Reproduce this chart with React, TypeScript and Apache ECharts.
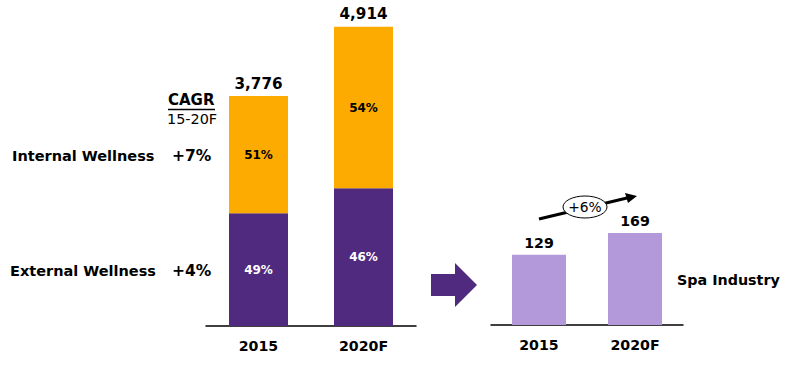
import React, { useEffect, useRef } from "react";
import * as echarts from "echarts";

const years = ["2015", "2020F"];
const totals = [3776, 4914];
const externalShare = [49, 46];
const internalShare = [51, 54];
const spaYears = ["2015", "2020F"];
const spaValues = [129, 169];
const cagrInternal = "+7%";
const cagrExternal = "+4%";
const cagrSpa = "+6%";

const FONT = "DejaVu Sans";
const ORANGE = "#FDAB00";
const PURPLE = "#4F2A7E";
const LILAC = "#B499DA";

export default function App() {
  const ref = useRef<HTMLDivElement>(null);
  useEffect(() => {
    if (!ref.current) return;
    const chart = echarts.init(ref.current, undefined, { renderer: "svg" });
    const extVals = totals.map((t, i) => Math.round((t * externalShare[i]) / 100));
    const intVals = totals.map((t, i) => t - extVals[i]);
    const txt = (x: number, y: number, text: string, opts: any = {}) => ({
      type: "text",
      x,
      y,
      style: {
        text,
        fontFamily: FONT,
        fontSize: 14,
        fontWeight: "bold",
        fill: "#000",
        textAlign: "left",
        textVerticalAlign: "middle",
        ...opts,
      },
    });
    const xLabel = { color: "#000", fontSize: 14.2, fontWeight: "bold", fontFamily: FONT, margin: 13 };
    chart.setOption({
      animation: false,
      textStyle: { fontFamily: FONT },
      grid: [
        { left: 206, width: 210, top: 21.5, height: 304.5 },
        { left: 491, width: 192, top: 216, height: 109 },
      ],
      xAxis: [
        {
          type: "category",
          gridIndex: 0,
          data: years,
          axisLine: { lineStyle: { color: "#000", width: 1.5 } },
          axisTick: { show: false },
          axisLabel: xLabel,
        },
        {
          type: "category",
          gridIndex: 1,
          data: spaYears,
          axisLine: { lineStyle: { color: "#000", width: 1.5 } },
          axisTick: { show: false },
          axisLabel: xLabel,
        },
      ],
      yAxis: [
        { type: "value", gridIndex: 0, min: 0, max: 5000, show: false, splitLine: { show: false } },
        { type: "value", gridIndex: 1, min: 0, max: 200, show: false, splitLine: { show: false } },
      ],
      series: [
        {
          name: "External Wellness",
          type: "bar",
          stack: "w",
          xAxisIndex: 0,
          yAxisIndex: 0,
          barWidth: 59,
          data: extVals,
          itemStyle: { color: PURPLE },
          label: {
            show: true,
            position: "inside",
            color: "#fff",
            fontSize: 12,
            fontWeight: "bold",
            fontFamily: FONT,
            formatter: (p: any) => externalShare[p.dataIndex] + "%",
          },
        },
        {
          name: "Internal Wellness",
          type: "bar",
          stack: "w",
          xAxisIndex: 0,
          yAxisIndex: 0,
          barWidth: 59,
          data: intVals,
          itemStyle: { color: ORANGE },
          label: {
            show: true,
            position: "inside",
            color: "#000",
            fontSize: 12,
            fontWeight: "bold",
            fontFamily: FONT,
            formatter: (p: any) => internalShare[p.dataIndex] + "%",
          },
        },
        {
          name: "Total",
          type: "bar",
          stack: "w",
          xAxisIndex: 0,
          yAxisIndex: 0,
          barWidth: 59,
          data: totals.map(() => 0),
          itemStyle: { color: "transparent" },
          label: {
            show: true,
            position: "top",
            distance: 5,
            color: "#000",
            fontSize: 15.2,
            fontWeight: "bold",
            fontFamily: FONT,
            formatter: (p: any) => totals[p.dataIndex].toLocaleString("en-US"),
          },
        },
        {
          name: "Spa Industry",
          type: "bar",
          xAxisIndex: 1,
          yAxisIndex: 1,
          barWidth: 54,
          data: spaValues,
          itemStyle: { color: LILAC },
          label: {
            show: true,
            position: "top",
            distance: 5,
            color: "#000",
            fontSize: 14.2,
            fontWeight: "bold",
            fontFamily: FONT,
            formatter: "{c}",
          },
        },
      ],
      graphic: [
        txt(168, 100, "CAGR", { fontSize: 15 }),
        { type: "line", shape: { x1: 168, y1: 109.5, x2: 215, y2: 109.5 }, style: { stroke: "#000", lineWidth: 1.5 } },
        txt(167, 119, "15-20F", { fontSize: 14.4, fontWeight: "normal" }),
        txt(12, 156, "Internal Wellness", { fontSize: 14.5 }),
        txt(172, 156, cagrInternal, { fontSize: 15.5 }),
        txt(10, 271, "External Wellness", { fontSize: 14.5 }),
        txt(172, 271, cagrExternal, { fontSize: 15.5 }),
        txt(677, 280, "Spa Industry", { fontSize: 14.3 }),
        {
          type: "polygon",
          shape: {
            points: [
              [431, 274],
              [455, 274],
              [455, 263],
              [477, 285],
              [455, 307],
              [455, 296],
              [431, 296],
            ],
          },
          style: { fill: PURPLE },
        },
        { type: "line", shape: { x1: 539, y1: 219, x2: 627, y2: 198 }, style: { stroke: "#000", lineWidth: 3 } },
        {
          type: "polygon",
          shape: { points: [[637, 196], [628, 203], [625, 193]] },
          style: { fill: "#000" },
        },
        {
          type: "ellipse",
          shape: { cx: 585, cy: 207, rx: 22, ry: 11 },
          style: { fill: "#fff", stroke: "#000", lineWidth: 1 },
          z: 10,
        },
        {
          type: "text",
          x: 585,
          y: 207,
          z: 11,
          style: {
            text: cagrSpa,
            fontFamily: FONT,
            fontSize: 13.8,
            fill: "#000",
            textAlign: "center",
            textVerticalAlign: "middle",
          },
        },
      ],
    });
    return () => chart.dispose();
  }, []);
  return <div ref={ref} style={{ width: 789, height: 365, position: "absolute", left: 0, top: 0 }} />;
}
